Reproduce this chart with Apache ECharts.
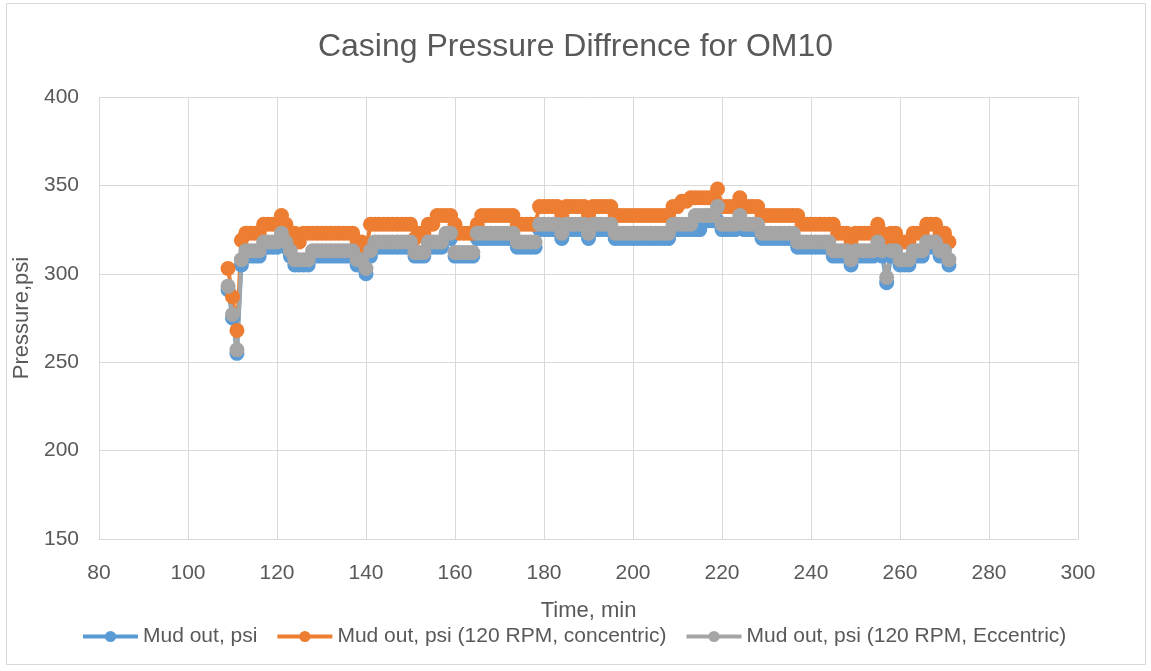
<!DOCTYPE html>
<html>
<head>
<meta charset="utf-8">
<script src="https://cdn.jsdelivr.net/npm/echarts@6/dist/echarts.min.js"></script>
<style>
  html, body { margin: 0; padding: 0; background: #fff; }
  .frame {
    position: absolute; left: 6px; top: 3px; width: 1140px; height: 662px;
    border: 1px solid #d9d9d9; box-sizing: border-box;
  }
  #chart { position: absolute; left: 0; top: 0; width: 1151px; height: 671px; }
</style>
</head>
<body>
<div class="frame"></div>
<div id="chart"></div>
<script>
// minutes
const times = [
  109, 110, 111, 112, 113, 114, 115, 116, 117, 118,
  119, 120, 121, 122, 123, 124, 125, 126, 127, 128,
  129, 130, 131, 132, 133, 134, 135, 136, 137, 138,
  139, 140, 141, 142, 143, 144, 145, 146, 147, 148,
  149, 150, 151, 152, 153, 154, 155, 156, 157, 158,
  159, 160, 161, 162, 163, 164, 165, 166, 167, 168,
  169, 170, 171, 172, 173, 174, 175, 176, 177, 178,
  179, 180, 181, 182, 183, 184, 185, 186, 187, 188,
  189, 190, 191, 192, 193, 194, 195, 196, 197, 198,
  199, 200, 201, 202, 203, 204, 205, 206, 207, 208,
  209, 210, 211, 212, 213, 214, 215, 216, 217, 218,
  219, 220, 221, 222, 223, 224, 225, 226, 227, 228,
  229, 230, 231, 232, 233, 234, 235, 236, 237, 238,
  239, 240, 241, 242, 243, 244, 245, 246, 247, 248,
  249, 250, 251, 252, 253, 254, 255, 256, 257, 258,
  259, 260, 261, 262, 263, 264, 265, 266, 267, 268,
  269, 270, 271
]

// Mud out, psi
const mudOut = [
  291, 275, 255, 305, 310, 310, 310, 310, 315, 315,
  315, 315, 320, 315, 310, 305, 305, 305, 305, 310,
  310, 310, 310, 310, 310, 310, 310, 310, 310, 305,
  305, 300, 310, 315, 315, 315, 315, 315, 315, 315,
  315, 315, 310, 310, 310, 315, 315, 315, 315, 320,
  320, 310, 310, 310, 310, 310, 320, 320, 320, 320,
  320, 320, 320, 320, 320, 315, 315, 315, 315, 315,
  325, 325, 325, 325, 325, 320, 325, 325, 325, 325,
  325, 320, 325, 325, 325, 325, 325, 320, 320, 320,
  320, 320, 320, 320, 320, 320, 320, 320, 320, 320,
  325, 325, 325, 325, 325, 325, 325, 330, 330, 330,
  330, 325, 325, 325, 325, 330, 325, 325, 325, 325,
  320, 320, 320, 320, 320, 320, 320, 320, 315, 315,
  315, 315, 315, 315, 315, 315, 310, 310, 310, 310,
  305, 310, 310, 310, 310, 310, 315, 310, 295, 310,
  310, 305, 305, 305, 310, 310, 310, 315, 315, 315,
  310, 310, 305
]

// Mud out, psi (120 RPM, concentric)
const mudConcentric = [
  303, 287, 268, 319, 323, 323, 323, 323, 328, 328,
  328, 328, 333, 328, 323, 323, 318, 323, 323, 323,
  323, 323, 323, 323, 323, 323, 323, 323, 323, 318,
  318, 313, 328, 328, 328, 328, 328, 328, 328, 328,
  328, 328, 320, 323, 323, 328, 328, 333, 333, 333,
  333, 328, 323, 323, 323, 323, 328, 333, 333, 333,
  333, 333, 333, 333, 333, 328, 328, 328, 328, 328,
  338, 338, 338, 338, 338, 333, 338, 338, 338, 338,
  338, 333, 338, 338, 338, 338, 338, 333, 333, 333,
  333, 333, 333, 333, 333, 333, 333, 333, 333, 333,
  338, 338, 341, 341, 343, 343, 343, 343, 343, 343,
  348, 338, 338, 338, 338, 343, 338, 338, 338, 338,
  333, 333, 333, 333, 333, 333, 333, 333, 333, 328,
  328, 328, 328, 328, 328, 328, 328, 323, 323, 323,
  318, 323, 323, 323, 323, 323, 328, 323, 318, 323,
  323, 318, 318, 318, 323, 323, 323, 328, 328, 328,
  323, 323, 318
]

// Mud out, psi (120 RPM, Eccentric)
const mudEccentric = [
  293, 277, 257, 308, 313, 313, 313, 313, 318, 318,
  318, 318, 323, 318, 313, 308, 308, 308, 308, 313,
  313, 313, 313, 313, 313, 313, 313, 313, 313, 308,
  308, 303, 313, 318, 318, 318, 318, 318, 318, 318,
  318, 318, 312, 312, 312, 318, 318, 318, 318, 323,
  323, 312, 312, 312, 312, 312, 323, 323, 323, 323,
  323, 323, 323, 323, 323, 318, 318, 318, 318, 318,
  328, 328, 328, 328, 328, 323, 328, 328, 328, 328,
  328, 323, 328, 328, 328, 328, 328, 323, 323, 323,
  323, 323, 323, 323, 323, 323, 323, 323, 323, 323,
  328, 328, 328, 328, 328, 333, 333, 333, 333, 333,
  338, 328, 328, 328, 328, 333, 328, 328, 328, 328,
  323, 323, 323, 323, 323, 323, 323, 323, 318, 318,
  318, 318, 318, 318, 318, 318, 313, 313, 313, 313,
  308, 313, 313, 313, 313, 313, 318, 313, 298, 313,
  313, 308, 308, 308, 313, 313, 313, 318, 318, 318,
  313, 313, 308
]

const seriesNames = [
  'Mud out, psi',
  'Mud out, psi (120 RPM, concentric)',
  'Mud out, psi (120 RPM, Eccentric)'
]
const seriesColors = ['#5b9bd5', '#ed7d31', '#a5a5a5']

const FONT = '"Liberation Sans", Arial, sans-serif'
const TEXT = '#595959'
const GRIDC = '#d9d9d9'

function pairs(values) {
  return times.map((t, i) => [t, values[i]])
}

const chart = echarts.init(document.getElementById('chart'))

chart.setOption({
  animation: false,
  backgroundColor: 'transparent',
  title: {
    text: 'Casing Pressure Diffrence for OM10',
    left: 'center',
    top: 26,
    textStyle: { fontFamily: FONT, fontSize: 32, fontWeight: 'normal', color: TEXT }
  },
  grid: { left: 99, right: 73, top: 97, bottom: 132 },
  legend: {
    bottom: 19,
    left: 76,
    itemWidth: 55,
    itemHeight: 14,
    itemGap: 18,
    lineStyle: { width: 4 },
    textStyle: { fontFamily: FONT, fontSize: 21, color: TEXT },
    data: seriesNames
  },
  xAxis: {
    type: 'value',
    min: 80,
    max: 300,
    interval: 20,
    name: 'Time, min',
    nameLocation: 'middle',
    nameGap: 61,
    nameTextStyle: { fontFamily: FONT, fontSize: 22, color: TEXT },
    axisLine: { show: true, lineStyle: { color: GRIDC } },
    axisTick: { show: false },
    axisLabel: { fontFamily: FONT, fontSize: 21, color: TEXT, margin: 24 },
    splitLine: { show: true, lineStyle: { color: GRIDC, width: 1 } }
  },
  yAxis: {
    type: 'value',
    min: 150,
    max: 400,
    interval: 50,
    name: 'Pressure,psi',
    nameLocation: 'middle',
    nameGap: 56,
    nameTextStyle: { fontFamily: FONT, fontSize: 22, color: TEXT },
    axisLine: { show: false },
    axisTick: { show: false },
    axisLabel: { fontFamily: FONT, fontSize: 21, color: TEXT, margin: 20 },
    splitLine: { show: true, lineStyle: { color: GRIDC, width: 1 } }
  },
  series: [mudOut, mudConcentric, mudEccentric].map((vals, i) => ({
    name: seriesNames[i],
    type: 'line',
    data: pairs(vals),
    symbol: 'circle',
    symbolSize: 15,
    showSymbol: true,
    showAllSymbol: true,
    color: seriesColors[i],
    lineStyle: { width: 4, color: seriesColors[i] },
    itemStyle: { color: seriesColors[i] }
  }))
})
</script>
</body>
</html>
